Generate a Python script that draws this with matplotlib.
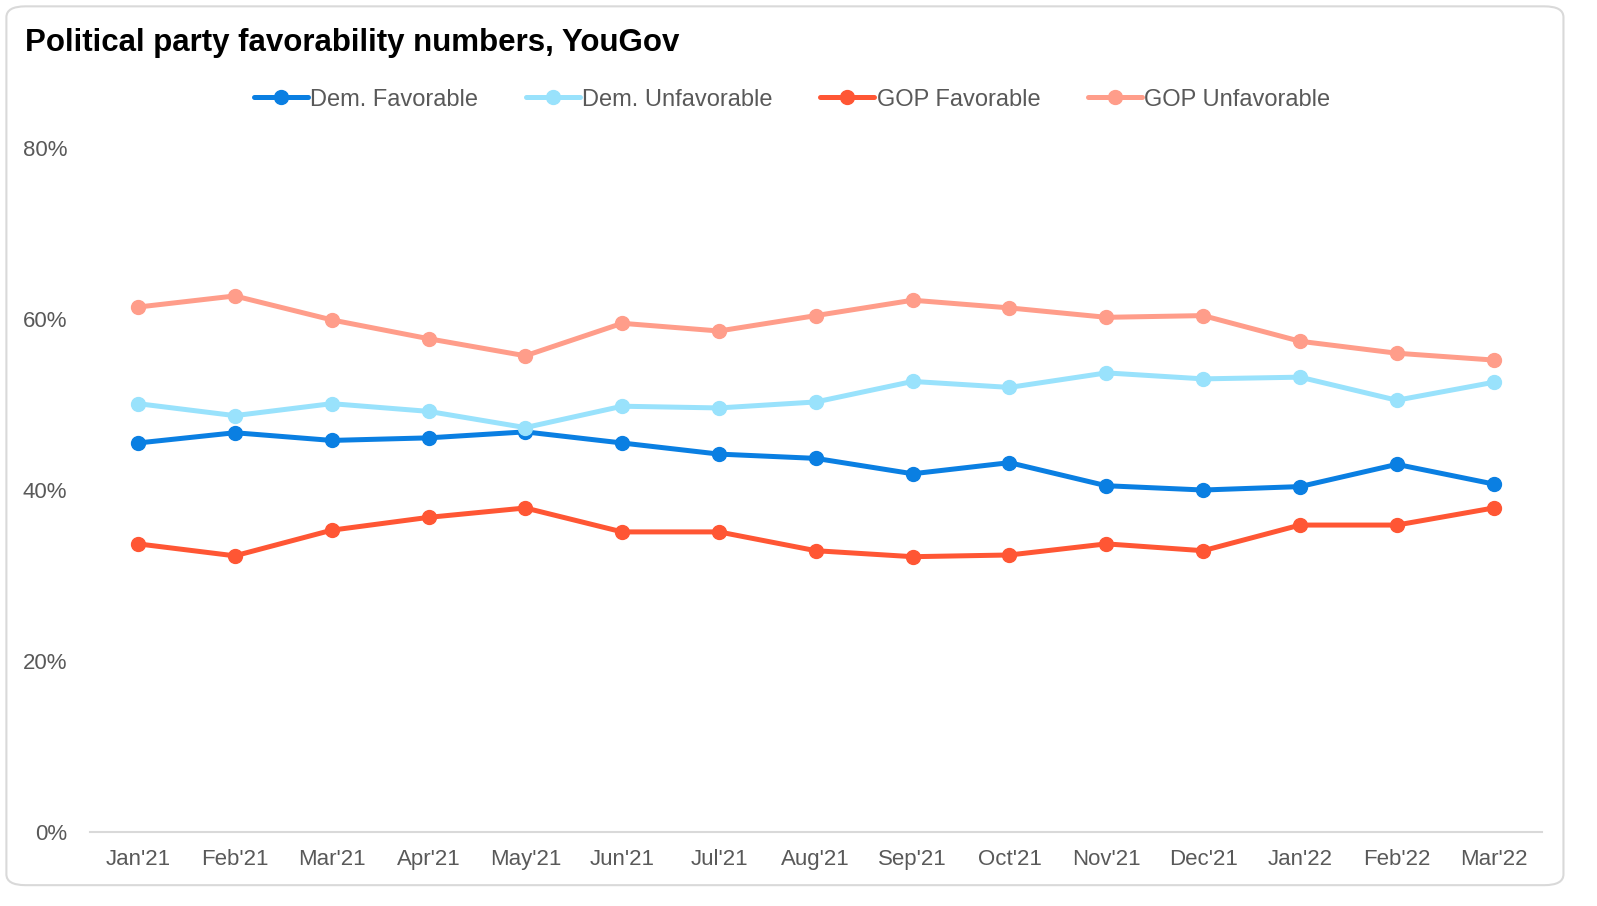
import matplotlib
matplotlib.use("Agg")
import matplotlib.pyplot as plt
from matplotlib.patches import FancyBboxPatch
from matplotlib.ticker import FuncFormatter

plt.rcParams['font.family'] = ['Liberation Sans', 'DejaVu Sans']

months = ["Jan'21", "Feb'21", "Mar'21", "Apr'21", "May'21", "Jun'21", "Jul'21",
          "Aug'21", "Sep'21", "Oct'21", "Nov'21", "Dec'21", "Jan'22", "Feb'22", "Mar'22"]

dem_fav = [45.5, 46.7, 45.8, 46.1, 46.8, 45.5, 44.2, 43.7, 41.9, 43.2, 40.5, 40.0, 40.4, 43.0, 40.7]
dem_unfav = [50.1, 48.7, 50.1, 49.2, 47.3, 49.8, 49.6, 50.3, 52.7, 52.0, 53.7, 53.0, 53.2, 50.5, 52.6]
gop_fav = [33.7, 32.3, 35.3, 36.8, 37.9, 35.1, 35.1, 32.9, 32.2, 32.4, 33.7, 32.9, 35.9, 35.9, 37.9]
gop_unfav = [61.4, 62.7, 59.9, 57.7, 55.7, 59.5, 58.6, 60.4, 62.2, 61.3, 60.2, 60.4, 57.4, 56.0, 55.2]

series = [
    ("Dem. Favorable", dem_fav, "#0A7FE2"),
    ("Dem. Unfavorable", dem_unfav, "#99E2FC"),
    ("GOP Favorable", gop_fav, "#FF5634"),
    ("GOP Unfavorable", gop_unfav, "#FF9D8A"),
]

fig = plt.figure(figsize=(15.97, 9.06), dpi=100)

# rounded outer frame, behind everything
frame = FancyBboxPatch((0.004, 0.023), 0.975, 0.97, boxstyle="round,pad=0,rounding_size=0.012",
                       transform=fig.transFigure, facecolor='none', edgecolor='#D9D9D9',
                       linewidth=1.5, zorder=-5)
fig.patches.append(frame)

ax = fig.add_axes([0.0561, 0.0817, 0.9095, 0.7549])
ax.set_facecolor('none')

x = list(range(len(months)))
for name, vals, col in series:
    ax.plot(x, vals, color=col, linewidth=3.6, marker='o', markersize=10,
            label=name, solid_capstyle='round')

ax.set_xlim(-0.5, len(months) - 0.5)
ax.set_ylim(0, 80)
ax.set_yticks([0, 20, 40, 60, 80])
ax.yaxis.set_major_formatter(FuncFormatter(lambda v, p: f"{v:.0f}%"))
ax.set_xticks(x)
ax.set_xticklabels(months)

for side in ['top', 'right', 'left']:
    ax.spines[side].set_visible(False)
ax.spines['bottom'].set_color('#D9D9D9')
ax.spines['bottom'].set_linewidth(1.5)
ax.tick_params(axis='both', length=0, labelsize=16, labelcolor='#595959')
ax.tick_params(axis='y', pad=16)
ax.tick_params(axis='x', pad=12)

fig.text(0.0157, 0.953, "Political party favorability numbers, YouGov", fontsize=22.5,
         fontweight='bold', color='black', ha='left', va='center')

leg = fig.legend(loc='center', bbox_to_anchor=(0.496, 0.890), ncol=4, frameon=False,
                 fontsize=17, handlelength=2.3, handletextpad=0.1, columnspacing=2.0)
for t in leg.get_texts():
    t.set_color('#595959')

fig.savefig("out.png", dpi=100)
